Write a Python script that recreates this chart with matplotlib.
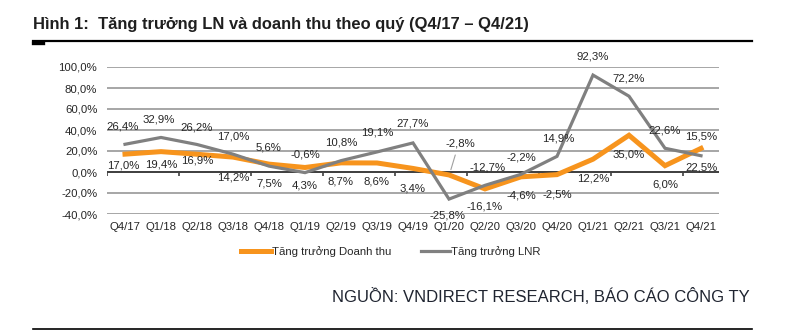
import numpy as np
import matplotlib
matplotlib.use("Agg")
import matplotlib.pyplot as plt
from matplotlib.lines import Line2D

plt.rcParams['font.family'] = ['Liberation Sans', 'DejaVu Sans']

# data
quarters = ["Q4/17", "Q1/18", "Q2/18", "Q3/18", "Q4/18", "Q1/19", "Q2/19", "Q3/19",
            "Q4/19", "Q1/20", "Q2/20", "Q3/20", "Q4/20", "Q1/21", "Q2/21", "Q3/21", "Q4/21"]
revenue_growth = [17.0, 19.4, 16.9, 14.2, 7.5, 4.3, 8.7, 8.6,
                  3.4, -2.8, -16.1, -4.6, -2.5, 12.2, 35.0, 6.0, 22.5]
profit_growth = [26.4, 32.9, 26.2, 17.0, 5.6, -0.6, 10.8, 19.1,
                 27.7, -25.8, -12.7, -2.2, 14.9, 92.3, 72.2, 22.6, 15.5]
y_ticks = [-40, -20, 0, 20, 40, 60, 80, 100]

# label offsets in pixels (dx, dy), as Excel placed them
rev_offsets = [(-2, -11), (0, -13), (0, -6), (0, -20), (0, -19), (0, -18), (0, -19), (0, -19),
               (0, -20), (11, 31), (0, -18), (0, -19), (0, -20), (0, -19), (0, -19), (0, -19), (0, -19)]
lnr_offsets = [(-2, 18), (-2, 18), (0, 17), (0, 18), (0, 19), (0, 18), (0, 18), (0, 19),
               (0, 19), (-2, -16), (3, 18), (0, 17), (1, 18), (0, 19), (0, 18), (0, 18), (0, 19)]

ORANGE = "#F7941D"
GREY = "#808080"
TXT = "#262626"
FS = 8.2

def pct(v):
    return f"{v:.1f}%".replace(".", ",")

W, H = 790, 332
fig = plt.figure(figsize=(W / 100, H / 100), dpi=100)
ax = fig.add_axes([107 / W, (H - 214) / H, (719 - 107) / W, (214 - 67) / H])

x = np.arange(len(quarters))
ax.set_xlim(-0.5, len(quarters) - 0.5)
ax.set_ylim(-40, 100)
ax.set_yticks(y_ticks)
ax.set_yticklabels([pct(v) for v in y_ticks])
ax.set_xticks(x)
ax.set_xticklabels(quarters)
ax.tick_params(axis='both', length=0, labelsize=FS, colors=TXT)
ax.tick_params(axis='x', pad=6)
ax.tick_params(axis='y', pad=7)
for s in ax.spines.values():
    s.set_visible(False)
ax.yaxis.grid(True, color="#a6a6a6", lw=1.4)
ax.set_axisbelow(True)

# zero axis with tick marks every second category boundary
ax.axhline(0, color="#404040", lw=1.4, zorder=1)
ax.vlines(np.arange(-0.5, len(quarters), 2), -3.8, 0, color="#404040", lw=1.2, zorder=1)

ax.plot(x, revenue_growth, color=ORANGE, lw=3.6, solid_joinstyle='miter', zorder=3)
ax.plot(x, profit_growth, color=GREY, lw=2.3, solid_joinstyle='miter', zorder=4)

for i, v in enumerate(profit_growth):
    ax.annotate(pct(v), (x[i], v), xytext=lnr_offsets[i], textcoords='offset pixels',
                ha='center', va='center', fontsize=FS, color=TXT, zorder=5)
for i, v in enumerate(revenue_growth):
    ax.annotate(pct(v), (x[i], v), xytext=rev_offsets[i], textcoords='offset pixels',
                ha='center', va='center', fontsize=FS, color=TXT, zorder=5)

# leader line for the Q1/20 revenue label
ax.annotate("", (x[9] + 0.03, revenue_growth[9] + 2.5), xytext=(6, 20), textcoords='offset pixels',
            arrowprops=dict(arrowstyle='-', color="#a0a0a0", lw=0.8))

handles = [Line2D([], [], color=ORANGE, lw=3.6), Line2D([], [], color=GREY, lw=2.3)]
fig.legend(handles, ["Tăng trưởng Doanh thu", "Tăng trưởng LNR"], ncol=2, frameon=False,
           loc='center', bbox_to_anchor=(391 / W, (H - 252) / H), fontsize=FS,
           handlelength=2.6, handletextpad=0.1, columnspacing=2.6, labelcolor=TXT)

fig.text(33 / W, (H - 25) / H, "Hình 1:  Tăng trưởng LN và doanh thu theo quý (Q4/17 – Q4/21)",
         ha='left', va='center', fontsize=11.9, fontweight='bold', color="#1f1f1f")
fig.text(750 / W, (H - 297) / H, "NGUỒN: VNDIRECT RESEARCH, BÁO CÁO CÔNG TY",
         ha='right', va='center', fontsize=12.0, color="#1f2430")

fig.add_artist(Line2D([33 / W, 752 / W], [(H - 41) / H] * 2, color='black', lw=1.6))
fig.add_artist(Line2D([33 / W, 43 / W], [(H - 42.5) / H] * 2, color='black', lw=2.4))
fig.add_artist(Line2D([33 / W, 752 / W], [(H - 329) / H] * 2, color='black', lw=1.2))

fig.savefig("out.png", dpi=100)
